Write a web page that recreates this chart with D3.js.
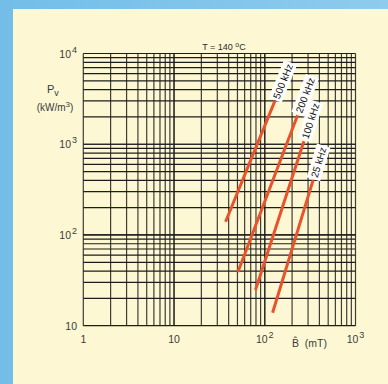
<!DOCTYPE html>
<html lang="en">
<head>
  <meta charset="UTF-8">
  <title>Pv vs B</title>
  <style>
    body { margin: 0; padding: 0; background: #fdf8d3; }
    svg { display: block; }
  </style>
  <script src="https://d3js.org/d3.v7.min.js"></script>
</head>
<body>
  <svg id="chart" width="388" height="384"></svg>
  <script>
    // curves: [B mT, Pv kW/m3] end points
    const freqs = ['500 kHz', '200 kHz', '100 kHz', '25 kHz'];
    const startB = [37, 50.6, 79, 122];
    const startP = [140, 39, 24.7, 13.9];
    const endB = [129, 230, 270, 341];
    const endP = [2990, 2090, 1080, 402];
    const xTicks = ['1', '10', '10|2', '10|3'];
    const yTicks = ['10', '10|2', '10|3', '10|4'];

    const svg = d3.select('#chart');
    const defs = svg.append('defs');
    const grad = defs.append('linearGradient').attr('id', 'blue');
    grad.append('stop').attr('offset', '0%').attr('stop-color', '#72bee8');
    grad.append('stop').attr('offset', '100%').attr('stop-color', '#8ecbee');

    svg.append('rect').attr('width', 388).attr('height', 384).attr('fill', 'url(#blue)');
    svg.append('rect').attr('x', 13).attr('y', 9).attr('width', 375).attr('height', 375).attr('fill', '#fdf8d3');

    const x = d3.scaleLog().domain([1, 1000]).range([83.3, 355.5]);
    const y = d3.scaleLog().domain([10, 10000]).range([325.7, 53.5]);

    const minor = [];
    for (let d = 1; d < 1000; d *= 10) for (let k = 1; k <= 10; k++) minor.push(d * k);
    const minorY = [];
    for (let d = 10; d < 10000; d *= 10) for (let k = 1; k <= 10; k++) minorY.push(d * k);

    const grid = svg.append('g').attr('stroke', '#1c1c1c').attr('stroke-width', 1.2);
    grid.selectAll('line.v').data(minor).enter().append('line')
      .attr('x1', d => x(d)).attr('x2', d => x(d))
      .attr('y1', y(10)).attr('y2', y(10000))
      .attr('stroke-opacity', 0.85);
    grid.selectAll('line.h').data(minorY).enter().append('line')
      .attr('y1', d => y(d)).attr('y2', d => y(d))
      .attr('x1', x(1)).attr('x2', x(1000));

    const font = 'Liberation Sans, Arial, sans-serif';
    function powLabel(sel, s) {
      const [base, exp] = s.split('|');
      sel.append('tspan').text(base);
      if (exp) sel.append('tspan').attr('dy', -5).attr('dx', 1).attr('font-size', 9).text(exp);
    }

    // x tick labels
    xTicks.forEach((t, i) => {
      const v = Math.pow(10, i);
      const tx = svg.append('text').attr('x', x(v)).attr('y', 343)
        .attr('text-anchor', 'middle').attr('font-family', font).attr('font-size', 10.5).attr('fill', '#3a3a3a');
      powLabel(tx, t);
    });
    // y tick labels
    yTicks.forEach((t, i) => {
      const v = Math.pow(10, i + 1);
      const tx = svg.append('text').attr('x', 77).attr('y', y(v) + 4)
        .attr('text-anchor', 'end').attr('font-family', font).attr('font-size', 10.5).attr('fill', '#3a3a3a');
      powLabel(tx, t);
    });

    // axis titles
    const pv = svg.append('text').attr('x', 47).attr('y', 93).attr('font-family', font)
      .attr('font-size', 11).attr('fill', '#3a3a3a');
    pv.append('tspan').text('P');
    pv.append('tspan').attr('dy', 3).attr('font-size', 9).text('v');
    const unit = svg.append('text').attr('x', 55).attr('y', 111).attr('text-anchor', 'middle')
      .attr('font-family', font).attr('font-size', 10).attr('fill', '#3a3a3a');
    unit.append('tspan').text('(kW/m');
    unit.append('tspan').attr('dy', -4).attr('font-size', 8).text('3');
    unit.append('tspan').attr('dy', 4).text(')');

    svg.append('text').attr('x', 292).attr('y', 347).attr('font-family', font)
      .attr('font-size', 10.5).attr('fill', '#3a3a3a').attr('xml:space', 'preserve')
      .text('B\u0302  (mT)');

    const title = svg.append('text').attr('x', 224).attr('y', 50).attr('text-anchor', 'middle')
      .attr('font-family', font).attr('font-size', 9).attr('fill', '#2a2a2a');
    title.append('tspan').text('T = 140 ');
    title.append('tspan').attr('dy', -3).attr('font-size', 7).text('o');
    title.append('tspan').attr('dy', 3).text('C');

    // curves
    const curves = freqs.map((f, i) => ({
      f, x1: x(startB[i]), y1: y(startP[i]), x2: x(endB[i]), y2: y(endP[i])
    }));
    svg.append('g').selectAll('line').data(curves).enter().append('line')
      .attr('x1', d => d.x1).attr('y1', d => d.y1)
      .attr('x2', d => d.x2).attr('y2', d => d.y2)
      .attr('stroke', '#e9532b').attr('stroke-width', 3);

    // rotated labels at the top end of each line
    curves.forEach(d => {
      const dx = d.x2 - d.x1, dy = d.y2 - d.y1;
      const len = Math.hypot(dx, dy);
      const ang = Math.atan2(dy, dx) * 180 / Math.PI;
      const g = svg.append('g');
      const t = g.append('text').attr('font-family', font).attr('font-size', 10)
        .attr('text-anchor', 'middle').attr('dy', 3.6).attr('fill', '#111').text(d.f);
      const w = t.node().getComputedTextLength() + 4;
      const off = w / 2 + 1;
      const cx = d.x2 + dx / len * off, cy = d.y2 + dy / len * off;
      g.insert('rect', 'text').attr('x', -w / 2).attr('y', -7).attr('width', w).attr('height', 14)
        .attr('fill', '#fff');
      g.attr('transform', `translate(${cx},${cy}) rotate(${ang})`);
    });
  </script>
</body>
</html>
